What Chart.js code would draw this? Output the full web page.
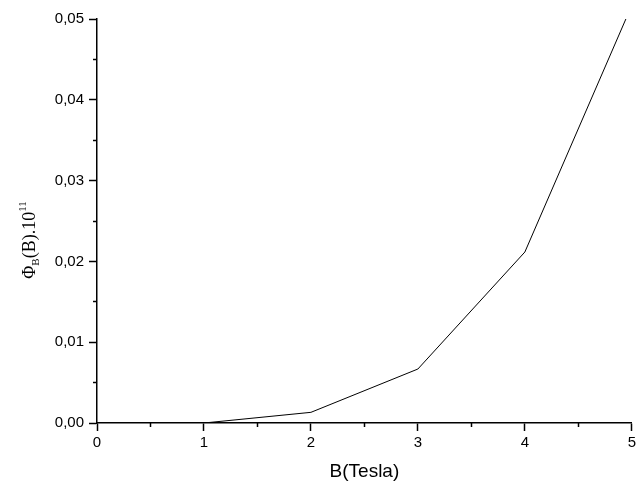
<!DOCTYPE html>
<html>
<head>
<meta charset="utf-8">
<script src="https://cdn.jsdelivr.net/npm/chart.js@4.4.1/dist/chart.umd.min.js"></script>
<style>
  html, body { margin: 0; padding: 0; background: #fff; }
  #wrap { width: 639px; height: 487px; }
</style>
</head>
<body>
<div id="wrap"><canvas id="grafico"></canvas></div>
<script>
// datos
const campoB = [1, 2, 3, 4, 5];
const flujo = [0, 0.00132, 0.00668, 0.02116, 0.0517];

const xMayores = [0, 1, 2, 3, 4, 5];
const xMenores = [0.5, 1.5, 2.5, 3.5, 4.5];
const yMayores = [0, 0.01, 0.02, 0.03, 0.04, 0.05];
const yMenores = [0.005, 0.015, 0.025, 0.035, 0.045];

const SANS = "'Liberation Sans', Arial, sans-serif";
const SERIF = "'Liberation Serif', 'Times New Roman', serif";

const puntos = campoB.map((b, i) => ({ x: b, y: flujo[i] }));

// título del eje Y con subíndice y superíndice
const tituloY = {
  id: 'tituloY',
  afterDraw(chart) {
    const { ctx, chartArea } = chart;
    const partes = [
      { t: 'Φ', size: 18, dy: 0 },
      { t: 'B', size: 11, dy: 4 },
      { t: '(B).10', size: 18, dy: 0 },
      { t: '11', size: 11, dy: -9 }
    ];
    ctx.save();
    ctx.fillStyle = '#000';
    ctx.textBaseline = 'alphabetic';
    let total = 0;
    partes.forEach(p => { ctx.font = `${p.size}px ${SERIF}`; p.w = ctx.measureText(p.t).width; total += p.w; });
    ctx.translate(35, (chartArea.top + chartArea.bottom) / 2 + 19);
    ctx.rotate(-Math.PI / 2);
    let x = -total / 2;
    partes.forEach(p => {
      ctx.font = `${p.size}px ${SERIF}`;
      ctx.fillText(p.t, x, p.dy);
      x += p.w;
    });
    ctx.restore();
  }
};

const ejeComun = {
  type: 'linear',
  border: { color: '#000', width: 1.5 },
  grid: { drawOnChartArea: false, drawTicks: true, tickLength: 8, tickColor: '#000', tickWidth: 1.5 },
  ticks: { color: '#000', font: { family: SANS, size: 15 } }
};

new Chart(document.getElementById('grafico'), {
  type: 'line',
  data: {
    datasets: [{
      data: puntos,
      borderColor: '#000',
      borderWidth: 1,
      pointRadius: 0,
      tension: 0,
      fill: false
    }]
  },
  options: {
    responsive: true,
    maintainAspectRatio: false,
    animation: false,
    layout: { padding: { left: 0, right: 7, top: 19, bottom: 0 } },
    plugins: { legend: { display: false }, tooltip: { enabled: false } },
    scales: {
      x: {
        ...ejeComun,
        position: 'bottom',
        min: 0, max: 5,
        afterBuildTicks: s => { s.ticks = xMayores.map(v => ({ value: v })); },
        afterFit: s => { s.height = 64; },
        ticks: { ...ejeComun.ticks, padding: 3, callback: v => String(v) },
        title: { display: true, text: 'B(Tesla)', color: '#000', font: { family: SANS, size: 19 }, padding: { top: 0, bottom: 4 } }
      },
      y: {
        ...ejeComun,
        position: 'left',
        min: 0, max: 0.05,
        afterBuildTicks: s => { s.ticks = yMayores.map(v => ({ value: v })); },
        afterFit: s => { s.width = 97; },
        ticks: { ...ejeComun.ticks, padding: 5, callback: v => v.toFixed(2).replace('.', ',') }
      },
      xMenor: {
        type: 'linear',
        position: { y: 0 },
        min: 0, max: 5,
        afterBuildTicks: s => { s.ticks = xMenores.map(v => ({ value: v })); },
        border: { display: false },
        grid: { drawOnChartArea: false, drawTicks: true, tickLength: 4, tickColor: '#000', tickWidth: 1.5 },
        ticks: { display: false }
      },
      yMenor: {
        type: 'linear',
        position: { x: 0 },
        min: 0, max: 0.05,
        afterBuildTicks: s => { s.ticks = yMenores.map(v => ({ value: v })); },
        border: { display: false },
        grid: { drawOnChartArea: false, drawTicks: true, tickLength: 4, tickColor: '#000', tickWidth: 1.5 },
        ticks: { display: false }
      }
    }
  },
  plugins: [tituloY]
});
</script>
</body>
</html>
